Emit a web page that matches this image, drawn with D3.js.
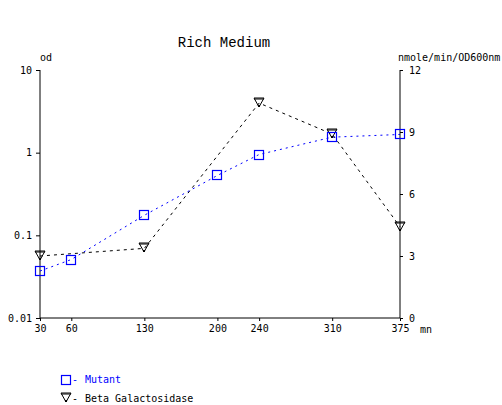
<!DOCTYPE html>
<html><head><meta charset="utf-8">
<script src="https://cdn.jsdelivr.net/npm/d3@7"></script>
<style>body{margin:0;background:#fff}svg{display:block}text{font-family:"DejaVu Sans Mono",monospace;font-size:10px}</style>
</head><body>
<script>
const title = "Rich Medium";
const xTicks = [30, 60, 130, 200, 240, 310, 375];
const leftTicks = [0.01, 0.1, 1, 10];
const leftTickLabels = ["0.01", "0.1", "1", "10"];
const rightTicks = [0, 3, 6, 9, 12];
const mutantX = [30, 60, 130, 200, 240, 310, 375];
const mutantOD = [0.037, 0.051, 0.175, 0.53, 0.95, 1.54, 1.66];
const betaX = [30, 130, 240, 310, 375];
const betaVal = [3.0, 3.37, 10.4, 8.9, 4.42];
const seriesNames = ["Mutant", "Beta Galactosidase"];

const W = 502, H = 405;
const svg = d3.select("body").append("svg").attr("width", W).attr("height", H);
const x = d3.scaleLinear().domain([30, 375]).range([40, 400]);
const yL = d3.scaleLog().domain([0.01, 10]).range([318, 70]);
const yR = d3.scaleLinear().domain([0, 12]).range([318, 70]);

svg.append("text").attr("x", 224).attr("y", 47).attr("text-anchor", "middle")
  .style("font-family", "'Liberation Mono', monospace").style("font-size", "14px").text(title);

// axes
const ax = svg.append("g").attr("transform", "translate(0,318)")
  .call(d3.axisBottom(x).tickValues(xTicks).tickSize(3).tickPadding(4).tickFormat(d3.format("d")));
const al = svg.append("g").attr("transform", "translate(40,0)")
  .call(d3.axisLeft(yL).tickValues(leftTicks).tickSize(4).tickPadding(4).tickFormat((d,i) => leftTickLabels[i]));
const ar = svg.append("g").attr("transform", "translate(400,0)")
  .call(d3.axisRight(yR).tickValues(rightTicks).tickSize(3).tickPadding(6));
[ax, al, ar].forEach(g => {
  g.select(".domain").remove();
  g.selectAll("line").attr("stroke", "#000");
  g.selectAll("text").attr("fill", "#000").style("font-family", "'DejaVu Sans Mono', monospace").style("font-size", "10px");
});
svg.append("line").attr("x1", 40).attr("x2", 40).attr("y1", 70).attr("y2", 318).attr("stroke", "#000");
svg.append("line").attr("x1", 400).attr("x2", 400).attr("y1", 70).attr("y2", 318).attr("stroke", "#000");
svg.append("line").attr("x1", 40).attr("x2", 400).attr("y1", 318).attr("y2", 318).attr("stroke", "#000");

svg.append("text").attr("x", 40).attr("y", 61).text("od");
svg.append("text").attr("x", 398).attr("y", 61).text("nmole/min/OD600nm");
svg.append("text").attr("x", 420).attr("y", 333).text("mn");

// series
const mutant = mutantX.map((d, i) => [d, mutantOD[i]]);
const beta = betaX.map((d, i) => [d, betaVal[i]]);

svg.append("path").datum(beta).attr("fill", "none").attr("stroke", "#000")
  .attr("stroke-dasharray", "3,4").attr("d", d3.line().x(d => x(d[0])).y(d => yR(d[1])));
svg.append("path").datum(mutant).attr("fill", "none").attr("stroke", "#0000ff")
  .attr("stroke-dasharray", "2,4").attr("d", d3.line().x(d => x(d[0])).y(d => yL(d[1])));

function tri(g, cx, cy) {
  g.append("path").attr("d", `M${cx-5},${cy-5}H${cx+5}L${cx},${cy+4}Z`).attr("fill", "none").attr("stroke", "#000");
  g.append("line").attr("x1", cx-5).attr("x2", cx+5).attr("y1", cy-4).attr("y2", cy-4).attr("stroke", "#000");
  g.append("rect").attr("x", cx-1).attr("y", cy+2).attr("width", 2).attr("height", 2).attr("fill", "#000");
}
function sq(g, cx, cy) {
  g.append("rect").attr("x", cx-4.5).attr("y", cy-4.5).attr("width", 9).attr("height", 9)
    .attr("fill", "none").attr("stroke", "#0000ff").attr("stroke-width", 1.2);
}
const gm = svg.append("g");
beta.forEach(d => tri(gm, Math.round(x(d[0])), Math.round(yR(d[1]))));
mutant.forEach(d => sq(gm, Math.round(x(d[0])), Math.round(yL(d[1]))));

// legend
sq(svg, 66, 380);
svg.append("text").attr("x", 72).attr("y", 383).attr("fill", "#0000ff").text("-");
svg.append("text").attr("x", 85).attr("y", 383).attr("fill", "#0000ff").text(seriesNames[0]);
tri(svg, 66, 398);
svg.append("text").attr("x", 72).attr("y", 402).text("-");
svg.append("text").attr("x", 85).attr("y", 402).text(seriesNames[1]);
</script>
</body></html>
